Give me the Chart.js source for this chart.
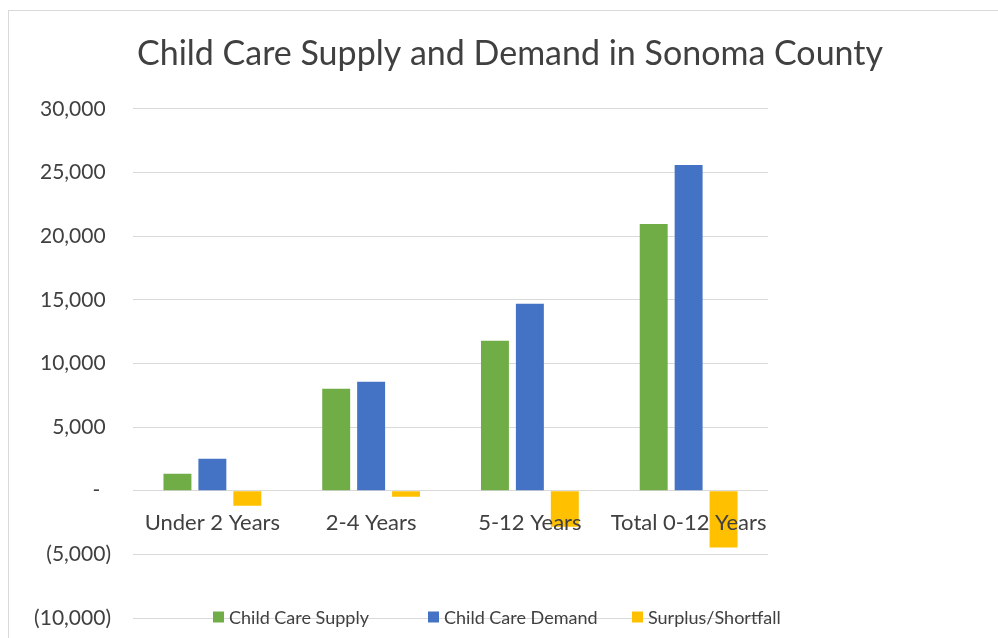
<!DOCTYPE html>
<html>
<head>
<meta charset="utf-8">
<script src="https://cdn.jsdelivr.net/npm/chart.js@4.4.1/dist/chart.umd.min.js"></script>
<style>
    html, body { margin: 0; padding: 0; background: #fff; overflow: hidden; }
    #wrap { position: relative; width: 998px; height: 638px; }
    #frame { position: absolute; left: 8px; top: 10px; width: 1000px; height: 700px; border: 1px solid #d9d9d9; box-sizing: border-box; }
    #chart { position: absolute; left: 0; top: 0; }
</style>
</head>
<body>
<div id="wrap">
    <div id="frame"></div>
    <canvas id="chart" width="998" height="638"></canvas>
</div>
<script>
const categories = ['Under 2 Years', '2-4 Years', '5-12 Years', 'Total 0-12 Years'];
const supply = [1330, 8000, 11770, 20960];
const demand = [2510, 8550, 14680, 25590];
const surplus = [-1180, -470, -2830, -4470];

const fontFamily = 'Lato, "Open Sans", sans-serif';
const textColor = '#404040';

function formatTick(value) {
    if (value === 0) return '-  ';
    const s = Math.abs(value).toLocaleString('en-US');
    return value < 0 ? '(' + s + ')' : s + ' ';
}

// legend drawn over the bottom of the plot, like the original
const legendStarts = [213, 428, 632];
const bottomLegend = {
    id: 'bottomLegend',
    afterDraw(chart) {
        const ctx = chart.ctx;
        const y = 617;
        const box = 11;
        ctx.save();
        ctx.font = '18px ' + fontFamily;
        ctx.textBaseline = 'middle';
        ctx.textAlign = 'left';
        chart.data.datasets.forEach((ds, i) => {
            const x = legendStarts[i];
            ctx.fillStyle = ds.backgroundColor;
            ctx.fillRect(x, y - box / 2, box, box);
            ctx.fillStyle = textColor;
            ctx.fillText(ds.label, x + box + 5, y + 1);
        });
        ctx.restore();
    }
};

const ctx = document.getElementById('chart').getContext('2d');
new Chart(ctx, {
    type: 'bar',
    data: {
        labels: categories,
        datasets: [
            { label: 'Child Care Supply', data: supply, backgroundColor: '#70AD47' },
            { label: 'Child Care Demand', data: demand, backgroundColor: '#4472C4' },
            { label: 'Surplus/Shortfall', data: surplus, backgroundColor: '#FFC000' }
        ]
    },
    options: {
        responsive: false,
        animation: false,
        layout: { padding: { left: 22, right: 0, top: 0, bottom: 20 } },
        datasets: {
            bar: { barPercentage: 0.8, categoryPercentage: 0.66 }
        },
        plugins: {
            legend: { display: false },
            tooltip: { enabled: false },
            title: {
                display: true,
                text: 'Child Care Supply and Demand in Sonoma County',
                color: textColor,
                font: { family: fontFamily, size: 34, weight: 'normal' },
                padding: { top: 34, bottom: 34 }
            }
        },
        scales: {
            x: {
                position: { y: 0 },
                grid: { display: false },
                border: { display: false },
                ticks: {
                    z: 1,  // labels sit on top of the negative bars
                    color: textColor,
                    font: { family: fontFamily, size: 22 },
                    padding: 11,
                    maxRotation: 0
                }
            },
            y: {
                min: -10000,
                max: 30000,
                grid: { color: '#d9d9d9', tickLength: 22, tickColor: 'rgba(0,0,0,0)' },
                border: { display: false },
                ticks: {
                    stepSize: 5000,
                    color: textColor,
                    font: { family: fontFamily, size: 21 },
                    padding: 0,
                    callback: formatTick
                },
                afterFit(scale) { scale.width = 111; }
            },
            // empty right-hand space, as in the original plot area
            yRight: {
                position: 'right',
                grid: { display: false },
                border: { display: false },
                ticks: { display: false },
                afterFit(scale) { scale.width = 230; }
            }
        }
    },
    plugins: [bottomLegend]
});
</script>
</body>
</html>
